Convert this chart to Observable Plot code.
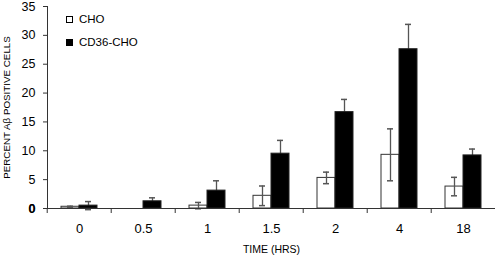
<!DOCTYPE html>
<html><head><meta charset="utf-8">
<script src="https://cdn.jsdelivr.net/npm/d3@7"></script>
<script src="https://cdn.jsdelivr.net/npm/@observablehq/plot@0.6"></script>
<style>
body{margin:0;background:#fff;font-family:"Liberation Sans",Arial,sans-serif;}
#wrap{position:relative;width:498px;height:256px;}
.lg{position:absolute;left:66px;font-size:11.5px;color:#000;display:flex;align-items:center;line-height:1;}
.sw{display:inline-block;width:7px;height:7px;box-sizing:border-box;margin-right:6px;}
</style></head><body><div id="wrap"></div>
<script>
const times = ["0", "0.5", "1", "1.5", "2", "4", "18"];
const seriesNames = ["CHO", "CD36-CHO"];
const choMean = [0.3, 0, 0.5, 2.2, 5.3, 9.3, 3.8];
const choErr = [0.1, 0, 0.55, 1.7, 1.0, 4.5, 1.6];
const cd36Mean = [0.5, 1.25, 3.1, 9.5, 16.7, 27.6, 9.2];
const cd36Err = [0.7, 0.6, 1.7, 2.3, 2.2, 4.3, 1.1];
const yTicks = [0, 5, 10, 15, 20, 25, 30, 35];

const rows = times.flatMap((t, i) => [
  {time: t, series: seriesNames[0], mean: choMean[i], err: choErr[i]},
  {time: t, series: seriesNames[1], mean: cd36Mean[i], err: cd36Err[i]}
]);
const choRows = rows.filter(d => d.series === seriesNames[0]);
const cdRows = rows.filter(d => d.series === seriesNames[1]);
const errRows = rows.filter(d => d.err > 0);

const W = 498, H = 256, ML = 45, MR = 1, MT = 6, MB = 48;
const step = (W - ML - MR) / times.length;
const axisColor = "#333";
const errColor = "#555";

const chart = Plot.plot({
  width: W, height: H,
  marginLeft: ML, marginRight: MR, marginTop: MT, marginBottom: MB,
  style: {fontFamily: "Liberation Sans, Arial, sans-serif", background: "white", color: "#000"},
  fx: {domain: times, padding: 0, label: null},
  x: {domain: seriesNames, paddingInner: 0, paddingOuter: 0.7, axis: null},
  y: {domain: [0, 35], axis: null},
  marks: [
    Plot.barY(choRows, {fx: "time", x: "series", y: "mean", fill: "white", stroke: "#333", strokeWidth: 1}),
    Plot.ruleX(errRows, {fx: "time", x: "series", y1: d => d.mean - d.err, y2: d => d.mean + d.err, stroke: errColor, strokeWidth: 1.3}),
    Plot.tickY(errRows, {fx: "time", x: "series", y: d => d.mean + d.err, stroke: errColor, strokeWidth: 1.5, insetLeft: 6, insetRight: 6}),
    Plot.tickY(errRows, {fx: "time", x: "series", y: d => d.mean - d.err, stroke: errColor, strokeWidth: 1.5, insetLeft: 6, insetRight: 6}),
    Plot.barY(cdRows, {fx: "time", x: "series", y: "mean", fill: "black", stroke: "#222", strokeWidth: 1}),
    Plot.ruleY([0], {stroke: axisColor, strokeWidth: 1}),
    Plot.frame({anchor: "left", fx: () => times[0], stroke: axisColor, strokeWidth: 1}),
    Plot.axisFx({anchor: "bottom", tickSize: 5, tickFormat: () => "", dx: -step / 2, stroke: axisColor, label: null}),
    Plot.axisFx({anchor: "bottom", tickSize: 0, tickPadding: 15, fontSize: 13, label: null}),
    Plot.axisFx({anchor: "bottom", tickSize: 0, tickFormat: () => "", fontSize: 10.5, label: "TIME (HRS)", labelAnchor: "center", labelOffset: 44}),
    Plot.axisY({anchor: "left", ticks: yTicks, tickSize: 4, tickPadding: 8, fontSize: 12.5, stroke: axisColor, label: null}),
    Plot.axisY({anchor: "left", ticks: [0], tickSize: 4, tickPadding: 8, fontSize: 12.5, fontWeight: "bold", stroke: axisColor, label: null}),
    Plot.axisY({anchor: "left", ticks: [], tickSize: 0, fontSize: 9.8, label: "PERCENT Aβ POSITIVE CELLS", labelAnchor: "center", labelOffset: 44, labelArrow: "none"})
  ]
});
const wrap = document.getElementById("wrap");
wrap.appendChild(chart);

const legendItems = [
  {name: seriesNames[0], top: 14, style: "background:#fff;border:1.5px solid #000;"},
  {name: seriesNames[1], top: 37, style: "background:#000;"}
];
for (const it of legendItems) {
  const d = document.createElement("div");
  d.className = "lg";
  d.style.top = it.top + "px";
  d.innerHTML = `<span class="sw" style="${it.style}"></span><span>${it.name}</span>`;
  wrap.appendChild(d);
}
</script>
</body></html>
